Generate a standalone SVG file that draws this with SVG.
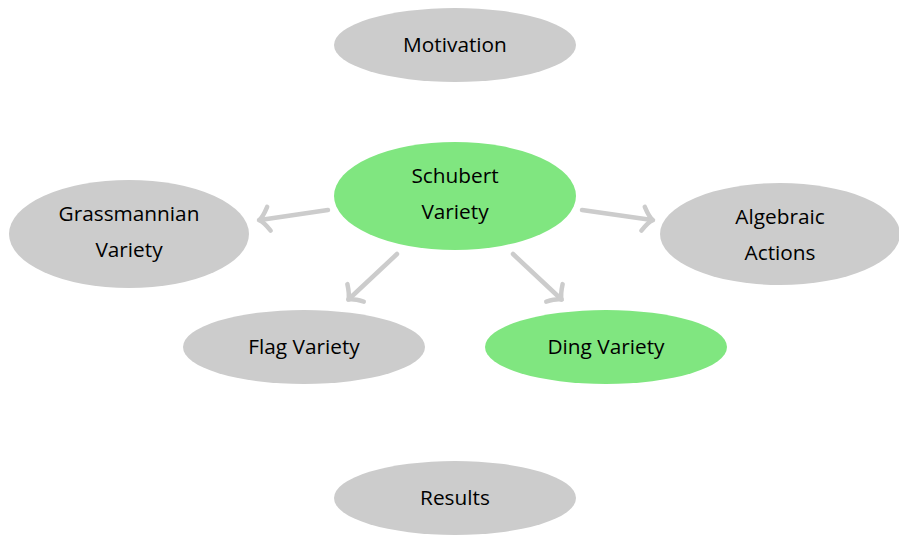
<svg xmlns="http://www.w3.org/2000/svg" width="899" height="535" viewBox="0 0 899 535">
<style>
.g{fill:#cccccc}
.s{fill:#80e680}
text{font-family:"Open Sans","DejaVu Sans",sans-serif;font-size:20.8px;fill:#000;text-anchor:middle}
.c path{fill:none;stroke:#cccccc;stroke-width:4.5;stroke-linecap:round}
</style>
<defs>
<marker id="a" markerUnits="userSpaceOnUse" markerWidth="30" markerHeight="30" viewBox="-15 -15 30 30" refX="0" refY="0" orient="auto">
<path d="M-9,-12 Q-3,-2 1,0 Q-3,2 -9,12" fill="none" stroke="#cccccc" stroke-width="4.5" stroke-linecap="round" stroke-linejoin="round"/>
</marker>
</defs>
<rect width="899" height="535" fill="#fff"/>
<g id="motivation"><ellipse class="g" cx="455" cy="45" rx="121" ry="37"/><text x="455" y="52">Motivation</text></g>
<g id="schubert"><ellipse class="s" cx="455" cy="196" rx="121" ry="54"/><text x="455" y="183">Schubert</text><text x="455" y="219">Variety</text></g>
<g id="grassmannian"><ellipse class="g" cx="129" cy="234" rx="120" ry="54"/><text x="129" y="221">Grassmannian</text><text x="129" y="257">Variety</text></g>
<g id="algebraic"><ellipse class="g" cx="780" cy="234" rx="120" ry="51"/><text x="780" y="224">Algebraic</text><text x="780" y="260">Actions</text></g>
<g id="flag"><ellipse class="g" cx="304" cy="347" rx="121" ry="37"/><text x="304" y="354">Flag Variety</text></g>
<g id="ding"><ellipse class="s" cx="606" cy="347" rx="121" ry="37"/><text x="606" y="354">Ding Variety</text></g>
<g id="results"><ellipse class="g" cx="455" cy="498" rx="121" ry="37"/><text x="455" y="505">Results</text></g>
<g class="c" id="connectors">
<path d="M328,210 L260,220" marker-end="url(#a)"/>
<path d="M397,254 L349,299" marker-end="url(#a)"/>
<path d="M513,254 L561,299" marker-end="url(#a)"/>
<path d="M582,210 L652,220" marker-end="url(#a)"/>
</g>
</svg>
